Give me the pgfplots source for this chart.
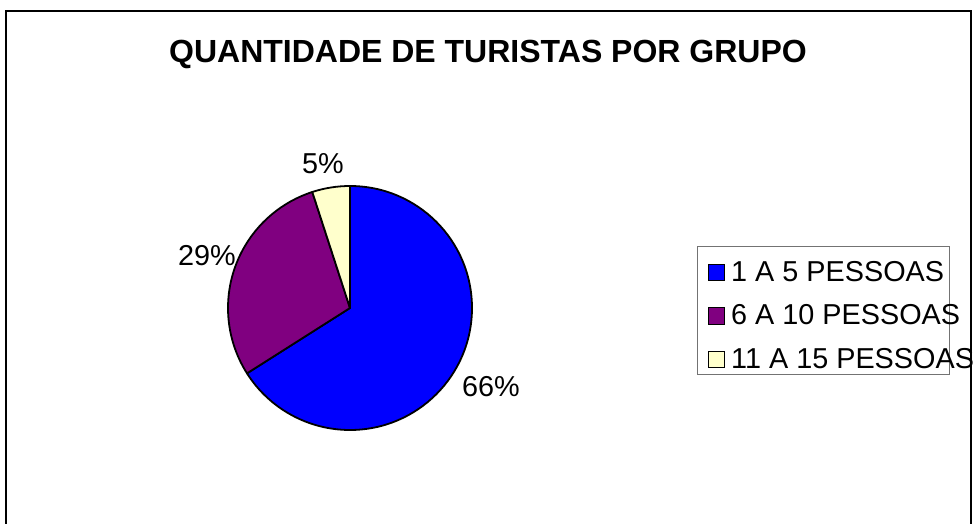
\documentclass[border=0pt]{standalone}
\usepackage{fontspec}
\setmainfont{Liberation Sans}
\usepackage{pgfplots}
\pgfplotsset{compat=1.18}

\definecolor{sliceA}{RGB}{0,0,255}
\definecolor{sliceB}{RGB}{128,0,128}
\definecolor{sliceC}{RGB}{255,255,204}

% shares (%)
\def\vA{66}
\def\vB{29}
\def\vC{5}

\begin{document}
\begin{tikzpicture}
\begin{axis}[
  x=0.5pt, y=0.5pt, y dir=reverse,
  xmin=0, xmax=976, ymin=0, ymax=524,
  hide axis, clip=false,
  legend image code/.code={\draw[#1,draw=black,line width=0.6pt] (0pt,0.3pt) rectangle (8.2pt,8.5pt);},
  legend style={at={(axis cs:697,246)}, anchor=north west,
    draw=black!55, line width=0.6pt, fill=white,
    inner xsep=5pt, inner ysep=3pt, row sep=7.45pt, column sep=3pt,
    cells={anchor=base west},
    nodes={inner sep=0pt, text height=14.3pt, text depth=0pt},
    font=\fontsize{14.4}{17}\selectfont},
]
\coordinate (tl) at (axis cs:0,0);
\coordinate (br) at (axis cs:976,524);
% frame
\draw[line width=1pt] (axis cs:6,530) -- (axis cs:6,11) -- (axis cs:971,11) -- (axis cs:971,530);
% title
\node[font=\fontsize{16}{19}\selectfont\bfseries] at (axis cs:488,54) {QUANTIDADE DE TURISTAS POR GRUPO};
% pie
\pgfmathsetmacro{\aA}{90-3.6*\vA}
\pgfmathsetmacro{\aB}{\aA-3.6*\vB}
\pgfmathsetmacro{\aC}{\aB-3.6*\vC}
\filldraw[fill=sliceA, draw=black, line width=0.9pt, line join=round]
  (axis cs:350,308) -- ++(90:61pt) arc[start angle=90, end angle=\aA, radius=61pt] -- cycle;
\filldraw[fill=sliceB, draw=black, line width=0.9pt, line join=round]
  (axis cs:350,308) -- ++(\aA:61pt) arc[start angle=\aA, end angle=\aB, radius=61pt] -- cycle;
\filldraw[fill=sliceC, draw=black, line width=0.9pt, line join=round]
  (axis cs:350,308) -- ++(\aB:61pt) arc[start angle=\aB, end angle=\aC, radius=61pt] -- cycle;
% percent labels
\node[font=\fontsize{14.4}{17}\selectfont] at (axis cs:491,387) {\vA\%};
\node[font=\fontsize{14.4}{17}\selectfont] at (axis cs:207,256) {\vB\%};
\node[font=\fontsize{14.4}{17}\selectfont] at (axis cs:323,164) {\vC\%};
% legend
\addlegendimage{fill=sliceA}
\addlegendentry{\makebox[104pt][l]{1 A 5 PESSOAS}}
\addlegendimage{fill=sliceB}
\addlegendentry{\makebox[104pt][l]{6 A 10 PESSOAS}}
\addlegendimage{fill=sliceC}
\addlegendentry{\makebox[104pt][l]{11 A 15 PESSOAS}}
\end{axis}
\pgfresetboundingbox
\path (tl) rectangle (br);
\end{tikzpicture}
\end{document}
